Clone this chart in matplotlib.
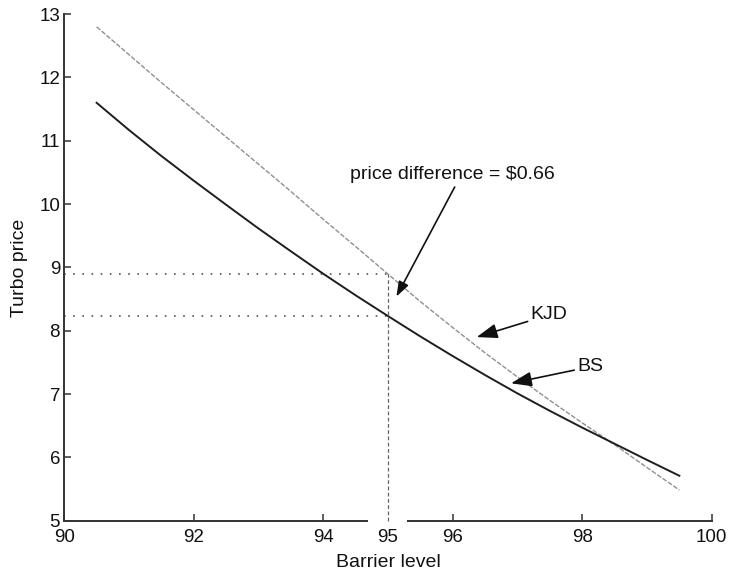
import matplotlib
matplotlib.use("Agg")
import matplotlib.pyplot as plt
from matplotlib.patches import Rectangle
import matplotlib.transforms as mtransforms

# ---- data ----
barrier = [90.5, 91.0, 91.5, 92.0, 92.5, 93.0, 93.5, 94.0, 94.5, 95.0,
           95.5, 96.0, 96.5, 97.0, 97.5, 98.0, 98.5, 99.0, 99.5]
kjd_price = [12.80, 12.36, 11.92, 11.49, 11.06, 10.63, 10.20, 9.76, 9.33, 8.895,
             8.46, 8.05, 7.65, 7.27, 6.90, 6.545, 6.20, 5.84, 5.485]
bs_price = [11.60, 11.17, 10.76, 10.37, 9.99, 9.615, 9.255, 8.90, 8.56, 8.232,
            7.91, 7.60, 7.30, 7.01, 6.735, 6.47, 6.215, 5.96, 5.71]

ref_barrier = 95.0
kjd_at_ref = 8.895
bs_at_ref = 8.232
diff_label = "price difference = $0.66"

xticks = [90, 92, 94, 95, 96, 98, 100]
yticks = [5, 6, 7, 8, 9, 10, 11, 12, 13]

plt.rcParams['font.family'] = ['Liberation Sans', 'DejaVu Sans']

fig = plt.figure(figsize=(7.3, 5.75), dpi=100)
ax = fig.add_axes([0.088, 0.0944, 0.887, 0.881])

axis_col = '#333333'

# curves
ax.plot(barrier, kjd_price, color='#909090', lw=1.0, linestyle=(0, (3.5, 1.2)), zorder=3)
ax.plot(barrier, bs_price, color='#1e1e1e', lw=1.4, zorder=3)

# reference guide lines
ax.plot([90, ref_barrier], [kjd_at_ref, kjd_at_ref], color='#555555', lw=1.2,
        linestyle=(0, (1, 4.5)), zorder=2)
ax.plot([90, ref_barrier], [bs_at_ref, bs_at_ref], color='#555555', lw=1.2,
        linestyle=(0, (1, 4.5)), zorder=2)
ax.plot([ref_barrier, ref_barrier], [5, kjd_at_ref], color='#666666', lw=0.9,
        linestyle=(0, (3, 2)), zorder=3, clip_on=False)

# gap in the x-axis around the 95 label
trans = mtransforms.blended_transform_factory(ax.transData, ax.transAxes)
ax.add_patch(Rectangle((94.69, -0.006), 0.6, 0.012, transform=trans,
                       facecolor='white', edgecolor='none', zorder=2.6, clip_on=False))

arrow_kw = dict(arrowstyle='-|>,head_length=0.9,head_width=0.32', color='#111111',
                lw=1.2, shrinkA=0, shrinkB=0)

# annotations
ax.text(94.42, 10.47, diff_label, fontsize=14, ha='left', va='center', color='#111111')
ax.annotate('', xy=(95.13, 8.54), xytext=(96.03, 10.27), arrowprops=arrow_kw)
ax.annotate('KJD', xy=(96.37, 7.90), xytext=(97.20, 8.25), fontsize=14,
            ha='left', va='center', color='#111111', arrowprops=arrow_kw)
ax.annotate('BS', xy=(96.90, 7.17), xytext=(97.92, 7.43), fontsize=14,
            ha='left', va='center', color='#111111', arrowprops=arrow_kw)

ax.set_xlim(90, 100)
ax.set_ylim(5, 13)
ax.set_xticks(xticks)
ax.set_xticklabels([str(t) for t in xticks])
ax.set_yticks(yticks)
ax.set_yticklabels([str(t) for t in yticks])

for s in ['top', 'right']:
    ax.spines[s].set_visible(False)
for s in ['left', 'bottom']:
    ax.spines[s].set_color(axis_col)
    ax.spines[s].set_linewidth(1.4)

ax.tick_params(axis='both', direction='in', length=5, width=1.1, color=axis_col,
               labelsize=13.5, labelcolor='#111111')
ax.tick_params(axis='x', pad=6)
ax.tick_params(axis='y', pad=3)
# no tick mark for 95
for t in ax.xaxis.get_major_ticks():
    if abs(t.get_loc() - ref_barrier) < 1e-9:
        t.tick1line.set_visible(False)

ax.set_xlabel('Barrier level', fontsize=14, labelpad=6, color='#111111')
ax.set_ylabel('Turbo price', fontsize=14, labelpad=8, color='#111111')

fig.savefig('out.png', dpi=100, facecolor='white')
